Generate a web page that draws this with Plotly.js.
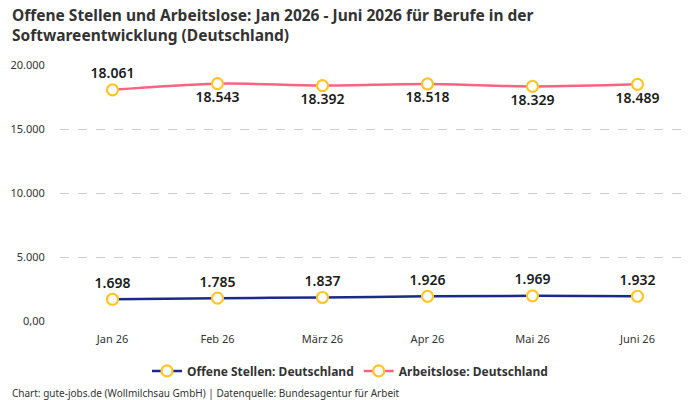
<!DOCTYPE html>
<html>
<head>
<meta charset="utf-8">
<script src="https://cdn.plot.ly/plotly-3.0.1.min.js"></script>
<style>html,body{margin:0;padding:0;background:#fff;}#chart{width:700px;height:400px;}</style>
</head>
<body>
<div id="chart"></div>
<script>
// Monthly figures, software development occupations, Germany
const months = ["Jan 26", "Feb 26", "März 26", "Apr 26", "Mai 26", "Juni 26"];
const offeneStellen = [1698, 1785, 1837, 1926, 1969, 1932];
const arbeitslose = [18061, 18543, 18392, 18518, 18329, 18489];
const tickValues = [0, 5000, 10000, 15000, 20000];
const tickLabels = ["0,00", "5.000", "10.000", "15.000", "20.000"];
const arbeitsloseLabelPos = ["top center", "bottom center", "bottom center", "bottom center", "bottom center", "bottom center"];

const fmt = v => v.toLocaleString("de-DE");
const font = "'Noto Sans', 'DejaVu Sans', sans-serif";

const markerStyle = {size: 11, color: "#ffffff", line: {color: "#FFC527", width: 2.2}};
const labelFont = {family: font, size: 14, color: "#1a1a1a", weight: 600};

const traces = [
  {
    x: months, y: offeneStellen, name: "Offene Stellen: Deutschland",
    type: "scatter", mode: "lines+markers+text",
    line: {color: "#1B2A8A", width: 2.5, shape: "spline"},
    marker: markerStyle,
    text: offeneStellen.map(fmt), textposition: "top center",
    textfont: labelFont,
    cliponaxis: false
  },
  {
    x: months, y: arbeitslose, name: "Arbeitslose: Deutschland",
    type: "scatter", mode: "lines+markers+text",
    line: {color: "#FA6381", width: 2.5, shape: "spline"},
    marker: markerStyle,
    text: arbeitslose.map(fmt), textposition: arbeitsloseLabelPos,
    textfont: labelFont,
    cliponaxis: false
  }
];

// plot area: 60..690 px wide, 65..321 px tall
const layout = {
  width: 700, height: 400,
  autosize: false,
  margin: {l: 60, r: 10, t: 65, b: 79},
  paper_bgcolor: "#ffffff", plot_bgcolor: "#ffffff",
  font: {family: font, color: "#333333", size: 11},
  xaxis: {
    type: "category", range: [-0.5, 5.5],
    showgrid: false, zeroline: false, showline: false,
    ticks: "outside", ticklen: 8, tickcolor: "rgba(0,0,0,0)",
    tickangle: 0, tickfont: {size: 11, color: "#333333"}
  },
  yaxis: {
    range: [0, 20000], tickvals: tickValues, ticktext: tickLabels,
    showgrid: true, gridcolor: "#cccccc", griddash: "dash", gridwidth: 1,
    zeroline: false, showline: false, ticks: "outside", ticklen: 12, tickcolor: "rgba(0,0,0,0)",
    tickfont: {size: 11, color: "#333333"}
  },
  showlegend: true,
  legend: {
    orientation: "h", x: (350 - 60) / 630, xanchor: "center",
    y: -0.195, yanchor: "middle",
    font: {size: 12, color: "#333333", weight: 700}
  },
  annotations: [
    {
      text: "<b>Offene Stellen und Arbeitslose: Jan 2026 - Juni 2026 für Berufe in der<br>Softwareentwicklung (Deutschland)</b>",
      xref: "paper", yref: "paper", x: -50 / 630, y: (321 - 2) / 256,
      xanchor: "left", yanchor: "top", align: "left", showarrow: false,
      font: {family: font, size: 15.5, color: "#333333"}
    },
    {
      text: "Chart: gute-jobs.de (Wollmilchsau GmbH) | Datenquelle: Bundesagentur für Arbeit",
      xref: "paper", yref: "paper", x: -50 / 630, y: (321 - 393) / 256,
      xanchor: "left", yanchor: "middle", showarrow: false,
      font: {size: 10, color: "#333333"}
    }
  ]
};

Plotly.newPlot("chart", traces, layout, {displayModeBar: false, staticPlot: true});
</script>
</body>
</html>
